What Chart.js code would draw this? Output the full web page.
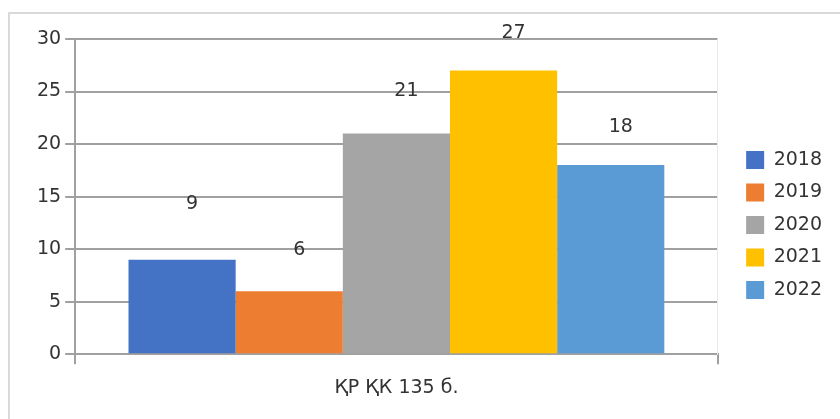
<!DOCTYPE html>
<html>
<head>
<meta charset="utf-8">
<script src="https://cdn.jsdelivr.net/npm/chart.js@4.4.0/dist/chart.umd.min.js"></script>
<style>
	body { margin: 0; background: #fff; }
	#frame { position: absolute; left: 8px; top: 12px; width: 840px; height: 420px;
		border-left: 2px solid #d9d9d9; border-top: 2px solid #d9d9d9; }
	#wrap { position: absolute; left: 0; top: 0; width: 840px; height: 419px; }
</style>
</head>
<body>
<div id="frame"></div>
<div id="wrap"><canvas id="myChart"></canvas></div>
<script>
// ----------------------- data ----------------------------
var categories = ['ҚР ҚК 135 б.'];
var years = ['2018', '2019', '2020', '2021', '2022'];
var values = [9, 6, 21, 27, 18];
var yTicks = [0, 5, 10, 15, 20, 25, 30];

// ----------------------- style ----------------------------
var colors = ['#4472C4', '#ED7D31', '#A5A5A5', '#FFC000', '#5B9BD5'];
var labelLift = [56, 41, 42, 37, 38];
var textColor = '#333333';
var lineColor = '#a0a0a0';
var font = { family: 'DejaVu Sans', size: 19 };

Chart.defaults.font.family = font.family;
Chart.defaults.color = textColor;

// value labels over the bars
var barLabels = {
	id: 'barLabels',
	afterDatasetsDraw: function(chart){
		var ctx = chart.ctx;
		ctx.save();
		ctx.font = font.size + 'px "' + font.family + '"';
		ctx.fillStyle = textColor;
		ctx.textAlign = 'center';
		ctx.textBaseline = 'middle';
		chart.data.datasets.forEach(function(ds, i){
			chart.getDatasetMeta(i).data.forEach(function(bar, j){
				ctx.fillText(ds.data[j], bar.x + 10, bar.y - labelLift[i]);
			});
		});
		ctx.restore();
	}
};

var datasets = years.map(function(y, i){
	return {
		label: y,
		data: [values[i]],
		backgroundColor: colors[i],
		borderWidth: 0,
		categoryPercentage: 0.834,
		barPercentage: 1
	};
});

var ctx = document.getElementById('myChart').getContext('2d');
var myChart = new Chart(ctx, {
	type: 'bar',
	data: { labels: categories, datasets: datasets },
	plugins: [barLabels],
	options: {
		responsive: true,
		maintainAspectRatio: false,
		animation: false,
		layout: { padding: { left: 33, top: 39, bottom: 8, right: 8 } },
		plugins: {
			tooltip: { enabled: false },
			legend: {
				position: 'right',
				labels: { boxWidth: 18, boxHeight: 18, padding: 13.5, font: font, color: textColor }
			}
		},
		scales: {
			x: {
				offset: true,
				grid: { display: true, drawOnChartArea: false, drawTicks: true, tickLength: 10,
					color: lineColor, lineWidth: 2, offset: true },
				border: { display: true, color: lineColor, width: 2 },
				ticks: { font: font, color: textColor, padding: 12 }
			},
			y: {
				min: 0,
				max: 30,
				afterBuildTicks: function(s){ s.ticks = yTicks.map(function(v){ return { value: v }; }); },
				grid: { color: lineColor, lineWidth: 2, tickLength: 10 },
				border: { display: true, color: lineColor, width: 2 },
				ticks: { font: font, color: textColor, padding: 4 }
			},
			y2: {
				position: 'right',
				display: true,
				grid: { display: false },
				border: { display: true, color: '#e8e8e8', width: 1 },
				ticks: { display: false },
				afterFit: function(s){ s.width = 15; }
			}
		}
	}
});
</script>
</body>
</html>
